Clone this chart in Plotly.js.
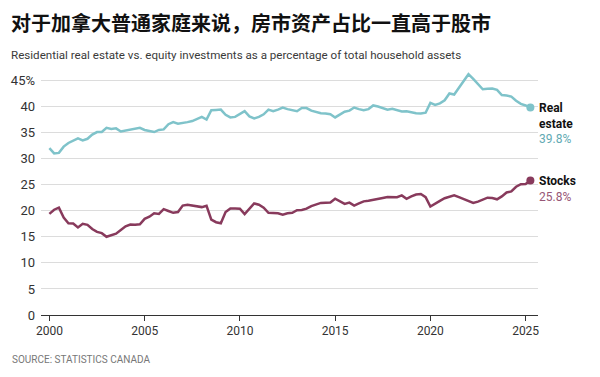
<!DOCTYPE html>
<html><head><meta charset="utf-8">
<script src="https://cdn.plot.ly/plotly-3.0.1.min.js"></script>
<style>html,body{margin:0;padding:0;background:#fff}#chart{width:600px;height:377px}</style>
</head><body><div id="chart"></div>
<script>
// Quarterly data, 2000 Q1 – 2025 Q2 (% of total household assets)
const startYear = 2000;
const realEstate = [
  32.0, 31.0, 31.1, 32.3,
  33.0, 33.4, 33.9, 33.5,
  33.8, 34.6, 35.1, 35.1,
  35.9, 35.7, 35.8, 35.2,
  35.4, 35.5, 35.7, 35.9,
  35.5, 35.3, 35.1, 35.5,
  35.6, 36.6, 37.0, 36.7,
  36.8, 37.0, 37.2, 37.6,
  38.0, 37.5, 39.3, 39.35,
  39.4, 38.4, 37.9, 38.0,
  38.6, 39.1, 38.1, 37.7,
  38.0, 38.5, 39.4, 39.1,
  39.4, 39.8, 39.5, 39.3,
  39.1, 39.7, 39.7, 39.2,
  38.9, 38.7, 38.65, 38.5,
  37.9, 38.5, 39.0, 39.2,
  39.8, 39.5, 39.3, 39.5,
  40.2, 40.0, 39.7, 39.4,
  39.55, 39.3, 39.05, 39.1,
  38.9, 38.7, 38.65, 38.8,
  40.7, 40.3, 40.6, 41.2,
  42.5, 42.3, 43.6, 44.9,
  46.2, 45.3, 44.2, 43.3,
  43.4, 43.45, 43.2, 42.2,
  42.1, 41.9, 41.1, 40.5,
  40.2, 39.8
];
const stocks = [
  19.4, 20.2, 20.6, 18.7,
  17.6, 17.55, 16.8, 17.5,
  17.3, 16.5, 15.95, 15.7,
  15.0, 15.25, 15.6, 16.3,
  17.0, 17.35, 17.3, 17.4,
  18.45, 18.85, 19.5, 19.4,
  20.3, 19.95, 19.6, 19.75,
  21.0, 21.15, 21.0, 20.9,
  20.7, 20.95, 18.3, 17.8,
  17.6, 19.75, 20.45, 20.45,
  20.4, 19.35, 20.4, 21.4,
  21.15, 20.6, 19.6, 19.6,
  19.5, 19.25, 19.5, 19.6,
  20.1, 20.15, 20.4, 20.9,
  21.25, 21.5, 21.55, 21.6,
  22.3, 21.8, 21.3, 21.55,
  21.0, 21.4, 21.8, 21.9,
  22.05, 22.2, 22.45, 22.65,
  22.65, 22.6, 22.95, 22.3,
  22.75, 23.1, 23.2, 22.6,
  20.8, 21.4, 21.9, 22.4,
  22.7, 22.95, 22.6, 22.25,
  21.85, 21.5, 21.75, 22.2,
  22.5, 22.45, 22.2, 22.75,
  23.5, 23.7, 24.6, 25.1,
  25.15, 25.8
];
const yTickVals = [0, 5, 10, 15, 20, 25, 30, 35, 40, 45];
const yTickText = ['0', '5', '10', '15', '20', '25', '30', '35', '40', '45%'];
const xTickVals = [2000, 2005, 2010, 2015, 2020, 2025];
const xTickText = ['2000', '2005', '2010', '2015', '2020', '2025'];
const realLabelLines = ['Real', 'estate'];
const stockLabelLines = ['Stocks'];
const titleText = '对于加拿大普通家庭来说，房市资产占比一直高于股市';
const subtitleText = 'Residential real estate vs. equity investments as a percentage of total household assets';
const sourceText = 'SOURCE: STATISTICS CANADA';

const quarterX = realEstate.map((_, i) => startYear + i / 4);

const tealLine = '#7fc3ca';
const maroonLine = '#883a5c';
const tealText = '#62aab3';
const maroonText = '#975676';
const sans = "'Roboto', sans-serif";

const M = {l: 41, r: 62, t: 70, b: 62};
const W = 600, H = 377;
const pw = W - M.l - M.r, ph = H - M.t - M.b;
const px2x = px => (px - M.l) / pw;
const py2y = py => (H - M.b - py) / ph;

const lastIdx = quarterX.length - 1;
const traces = [
  {x: quarterX, y: realEstate, type: 'scatter', mode: 'lines', line: {color: tealLine, width: 2.5}, hoverinfo: 'skip'},
  {x: quarterX, y: stocks, type: 'scatter', mode: 'lines', line: {color: maroonLine, width: 2.5}, hoverinfo: 'skip'},
  {x: [quarterX[lastIdx]], y: [realEstate[lastIdx]], type: 'scatter', mode: 'markers', marker: {color: tealLine, size: 8}, cliponaxis: false, hoverinfo: 'skip'},
  {x: [quarterX[lastIdx]], y: [stocks[lastIdx]], type: 'scatter', mode: 'markers', marker: {color: maroonLine, size: 8}, cliponaxis: false, hoverinfo: 'skip'}
];

function endLabel(lines, value, color) {
  return '<b>' + lines.join('<br>') + '</b><br><span style="color:' + color + ';font-weight:normal">' + value.toFixed(1) + '%</span>';
}

const annotations = [
  {text: '<b>' + titleText + '</b>', xref: 'paper', yref: 'paper', x: px2x(9), y: py2y(22), xanchor: 'left', yanchor: 'middle', showarrow: false,
   font: {family: "'Noto Sans CJK SC', sans-serif", size: 20, color: '#111'}},
  {text: subtitleText, xref: 'paper', yref: 'paper', x: px2x(9), y: py2y(55), xanchor: 'left', yanchor: 'middle', showarrow: false,
   font: {family: sans, size: 11.6, color: '#3a3a3a'}},
  {text: sourceText, xref: 'paper', yref: 'paper', x: px2x(10), y: py2y(359), xanchor: 'left', yanchor: 'middle', showarrow: false,
   font: {family: sans, size: 10, color: '#777'}},
  {text: endLabel(realLabelLines, realEstate[lastIdx], tealText), xref: 'paper', yref: 'y', x: px2x(537), y: realEstate[lastIdx], yshift: 9,
   xanchor: 'left', yanchor: 'top', align: 'left', showarrow: false, font: {family: sans, size: 12, color: '#111'}},
  {text: endLabel(stockLabelLines, stocks[lastIdx], maroonText), xref: 'paper', yref: 'y', x: px2x(537), y: stocks[lastIdx], yshift: 9,
   xanchor: 'left', yanchor: 'top', align: 'left', showarrow: false, font: {family: sans, size: 12, color: '#111'}}
];

const layout = {
  width: W, height: H, margin: M,
  paper_bgcolor: '#fff', plot_bgcolor: '#fff',
  showlegend: false,
  xaxis: {range: [1999.56, 2025.65], tickvals: xTickVals, ticktext: xTickText, ticks: 'outside', ticklen: 5, tickcolor: '#333', tickwidth: 1,
    showline: true, linecolor: '#333', linewidth: 1, showgrid: false, zeroline: false, fixedrange: true,
    tickfont: {family: sans, size: 12, color: '#333'}},
  yaxis: {range: [0, 47], tickvals: yTickVals, ticktext: yTickText, ticks: '', showgrid: true, gridcolor: '#dcdcdc', gridwidth: 1,
    zeroline: false, showline: false, fixedrange: true, ticklabelstandoff: 5,
    tickfont: {family: sans, size: 13, color: '#333'}},
  annotations: annotations
};
Plotly.newPlot('chart', traces, layout, {staticPlot: true, displayModeBar: false});
</script>
</body></html>
